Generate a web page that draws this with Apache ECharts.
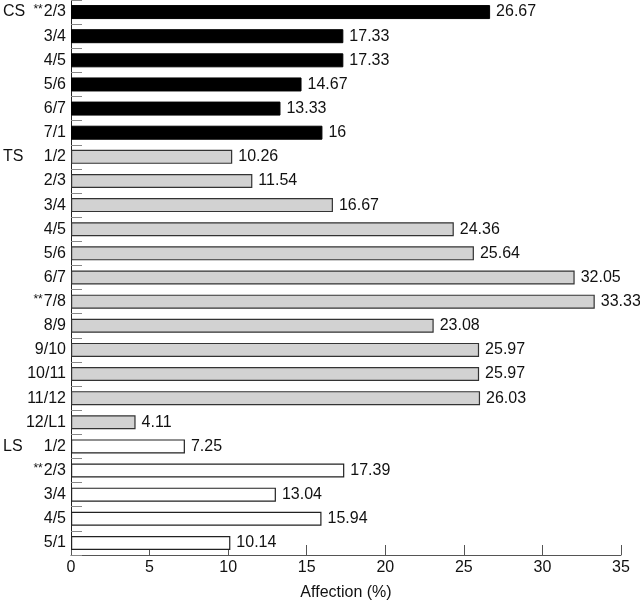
<!DOCTYPE html>
<html>
<head>
<meta charset="utf-8">
<script src="https://cdn.jsdelivr.net/npm/echarts@6/dist/echarts.min.js"></script>
<style>html,body{margin:0;padding:0;background:#fff}#c{width:640px;height:606px}</style>
</head>
<body>
<div id="c"></div>
<script>
const categories = ['**2/3','3/4','4/5','5/6','6/7','7/1',
  '1/2','2/3','3/4','4/5','5/6','6/7','**7/8','8/9','9/10','10/11','11/12','12/L1',
  '1/2','**2/3','3/4','4/5','5/1'];
const groups = ['CS','CS','CS','CS','CS','CS',
  'TS','TS','TS','TS','TS','TS','TS','TS','TS','TS','TS','TS',
  'LS','LS','LS','LS','LS'];
const values = [26.67,17.33,17.33,14.67,13.33,16,
  10.26,11.54,16.67,24.36,25.64,32.05,33.33,23.08,25.97,25.97,26.03,4.11,
  7.25,17.39,13.04,15.94,10.14];
const xTicks = [0,5,10,15,20,25,30,35];
const xName = 'Affection (%)';

const styleByGroup = {
  CS: {color:'#000', borderColor:'#000', borderWidth:1},
  TS: {color:'#d2d2d2', borderColor:'#333', borderWidth:1.2},
  LS: {color:'#fff', borderColor:'#222', borderWidth:1.2}
};
const data = values.map((v,i)=>({value:v, itemStyle:styleByGroup[groups[i]]}));
const font = 'Liberation Sans';
const fs = 16;
const chart = echarts.init(document.getElementById('c'));
chart.setOption({
  animation:false,
  grid:{left:69,right:19,top:0,bottom:39},
  xAxis:{type:'value',min:xTicks[0],max:xTicks[xTicks.length-1],interval:5,
    name:xName,nameLocation:'middle',nameGap:30,
    nameTextStyle:{fontFamily:font,fontSize:fs,color:'#111'},
    axisLine:{show:true,lineStyle:{color:'#555',width:1}},
    axisTick:{show:true,inside:true,length:10,lineStyle:{color:'#555'}},
    axisLabel:{fontFamily:font,fontSize:fs,color:'#111',margin:5},
    splitLine:{show:false}},
  yAxis:[{type:'category',data:categories,inverse:true,
    axisLine:{show:true,lineStyle:{color:'#222',width:1}},
    axisTick:{show:true,inside:true,length:11,lineStyle:{color:'#888'}},
    axisLabel:{fontFamily:font,fontSize:fs,color:'#111',margin:5,
      formatter:v=> v.startsWith('**') ? '{s|**}' + v.slice(2) : v,
      rich:{s:{fontFamily:font,fontSize:12,color:'#111',padding:[0,1,4,0]}}}},
   {type:'category',data:categories,inverse:true,position:'left',
    axisLine:{show:false},axisTick:{show:false},
    axisLabel:{fontFamily:font,fontSize:fs,color:'#111',margin:68,align:'left',
      formatter:(v,i)=> (i===0||groups[i]!==groups[i-1]) ? groups[i] : ''}}],
  series:[{type:'bar',data:data,barWidth:14,
    label:{show:true,position:'right',distance:6,fontFamily:font,fontSize:fs,color:'#111',
      formatter:p=>String(p.value)}}]
});
</script>
</body>
</html>
